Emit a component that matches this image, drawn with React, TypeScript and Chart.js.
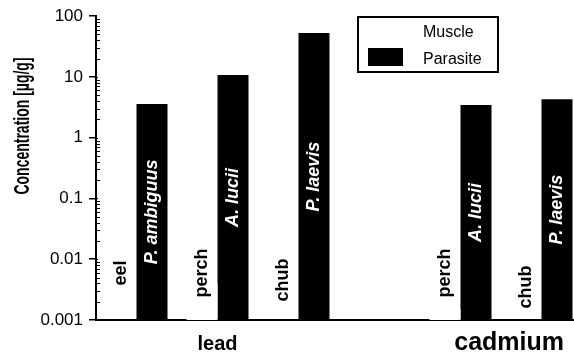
import React, { useEffect, useRef } from 'react';
import { Chart, registerables } from 'chart.js';

Chart.register(...registerables);

// ---------- data ----------
const slotKeys = ['lead: eel', 'lead: perch', 'lead: chub', '', 'cadmium: perch', 'cadmium: chub'];
const hostFish = ['eel', 'perch', 'chub', '', 'perch', 'chub'];
const parasiteSpecies = ['P. ambiguus', 'A. lucii', 'P. laevis', '', 'A. lucii', 'P. laevis'];
const muscleValues: (number | null)[] = [null, 0.004, null, null, 0.0015, null];
const parasiteValues: (number | null)[] = [3.6, 10.8, 52.7, null, 3.47, 4.31];
const metals = ['lead', 'cadmium'];
const yTickValues = [0.001, 0.01, 0.1, 1, 10, 100];
const yTickLabels = ['0.001', '0.01', '0.1', '1', '10', '100'];
const seriesNames = ['Muscle', 'Parasite'];
const yTitle = 'Concentration [µg/g]';

// ---------- style ----------
const FONT = '"Liberation Sans", Arial, Helvetica, sans-serif';
const CANVAS_W = 582;
const CANVAS_H = 356;
const METAL_AT = [1, 4.6];
const METAL_FONT = [20, 25];
const MUSCLE_LABEL_RISE = [47, 47, 40, 0, 47, 33];
const LEGEND = { x: 358, y: 17, w: 140, h: 55 };
const TITLE_POS = { x: 23, y: 126, size: 14, stretch: 1.55 };

const annotate = {
  id: 'annotate',
  afterDatasetsDraw(chart: any) {
    const { ctx, chartArea } = chart;
    const parMeta = chart.getDatasetMeta(1);
    const drawV = (text: string, x: number, y: number) => {
      ctx.save();
      ctx.translate(x, y);
      ctx.rotate(-Math.PI / 2);
      ctx.fillText(text, 0, 0);
      ctx.restore();
    };
    ctx.save();
    ctx.textAlign = 'center';
    ctx.textBaseline = 'middle';
    ctx.font = `bold 18px ${FONT}`;
    ctx.fillStyle = '#000';
    hostFish.forEach((name, i) => {
      if (!name) return;
      const el = parMeta.data[i];
      const x = el.x - el.width;
      drawV(name, x, chartArea.bottom - MUSCLE_LABEL_RISE[i]);
    });
    ctx.font = `italic bold 18px ${FONT}`;
    ctx.fillStyle = '#fff';
    parasiteSpecies.forEach((name, i) => {
      if (!name) return;
      const el = parMeta.data[i];
      drawV(name, el.x, (el.y + el.base) / 2);
    });
    ctx.restore();
  },
  afterDraw(chart: any) {
    const { ctx, chartArea, scales } = chart;
    const y = scales.y;
    const x = scales.x;
    ctx.save();
    // inner ticks
    ctx.strokeStyle = '#000';
    ctx.lineWidth = 1;
    for (let k = -3; k <= 1; k++) {
      for (let m = 1; m <= 9; m++) {
        const v = m * Math.pow(10, k);
        const py = Math.round(y.getPixelForValue(v)) + 0.5;
        ctx.beginPath();
        ctx.moveTo(chartArea.left, py);
        ctx.lineTo(chartArea.left + (m === 1 ? 2 : 4), py);
        ctx.stroke();
      }
    }
    // y title
    ctx.save();
    ctx.translate(TITLE_POS.x, TITLE_POS.y);
    ctx.rotate(-Math.PI / 2);
    ctx.scale(1, TITLE_POS.stretch);
    ctx.font = `bold ${TITLE_POS.size}px ${FONT}`;
    ctx.fillStyle = '#000';
    ctx.textAlign = 'center';
    ctx.textBaseline = 'middle';
    ctx.fillText(yTitle, 0, 0);
    ctx.restore();
    // group labels
    ctx.fillStyle = '#000';
    ctx.textAlign = 'center';
    ctx.textBaseline = 'alphabetic';
    metals.forEach((name, i) => {
      ctx.font = `bold ${METAL_FONT[i]}px ${FONT}`;
      ctx.fillText(name, x.getPixelForValue(METAL_AT[i]), 350);
    });
    // legend
    ctx.lineWidth = 2;
    ctx.strokeStyle = '#000';
    ctx.strokeRect(LEGEND.x, LEGEND.y, LEGEND.w, LEGEND.h);
    chart.data.datasets.forEach((ds: any, i: number) => {
      const cy = LEGEND.y + 16 + i * 27;
      ctx.fillStyle = ds.backgroundColor;
      ctx.fillRect(LEGEND.x + 10, cy - 12, 35, 18);
      ctx.fillStyle = '#000';
      ctx.font = `16px ${FONT}`;
      ctx.textAlign = 'left';
      ctx.textBaseline = 'middle';
      ctx.fillText(ds.label, LEGEND.x + 65, cy);
    });
    ctx.restore();
  },
};

export default function App() {
  const ref = useRef<HTMLCanvasElement>(null);
  useEffect(() => {
    const canvas = ref.current!;
    const chart = new Chart(canvas, {
      type: 'bar',
      data: {
        labels: slotKeys,
        datasets: [
          { label: seriesNames[0], data: muscleValues, backgroundColor: '#ffffff', borderWidth: 0 },
          { label: seriesNames[1], data: parasiteValues, backgroundColor: '#000000', borderWidth: 0 },
        ],
      },
      options: {
        responsive: false,
        animation: false,
        devicePixelRatio: 1,
        layout: { padding: { top: 15, left: 0, right: 0, bottom: 0 } },
        datasets: { bar: { categoryPercentage: 62 / 81, barPercentage: 1 } },
        plugins: { legend: { display: false }, tooltip: { enabled: false }, title: { display: false } },
        scales: {
          x: {
            type: 'category',
            offset: true,
            grid: { display: false },
            ticks: { display: false },
            border: { display: true, color: '#000', width: 2 },
            afterFit: (s: any) => { s.height = 36; },
          },
          y: {
            type: 'logarithmic',
            min: 0.001,
            max: 100,
            afterFit: (s: any) => { s.width = 96; },
            afterBuildTicks: (s: any) => { s.ticks = yTickValues.map((v) => ({ value: v })); },
            ticks: {
              autoSkip: false,
              color: '#000',
              font: { family: FONT, size: 17 },
              padding: 6,
              callback: (v: any) => {
                const idx = yTickValues.indexOf(Number(v));
                return idx >= 0 ? yTickLabels[idx] : '';
              },
            },
            grid: { drawOnChartArea: false, drawTicks: true, tickLength: 7, tickColor: '#000', lineWidth: 1.5 },
            border: { color: '#000', width: 2 },
            title: { display: false },
          },
        },
      } as any,
      plugins: [annotate],
    });
    return () => chart.destroy();
  }, []);
  return (
    <div style={{ position: 'fixed', left: 0, top: 0, width: 574, height: 356, overflow: 'hidden', background: '#fff' }}>
      <canvas ref={ref} width={CANVAS_W} height={CANVAS_H} style={{ width: CANVAS_W, height: CANVAS_H, display: 'block' }} />
    </div>
  );
}
